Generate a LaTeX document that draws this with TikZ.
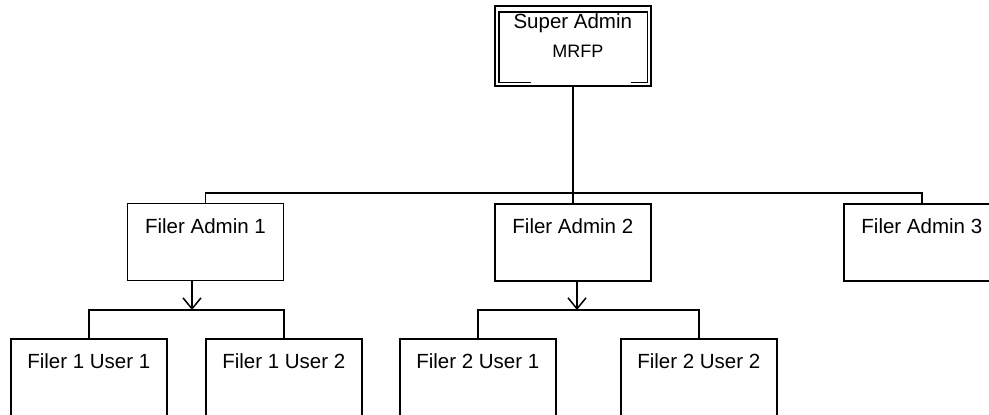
\documentclass[tikz,border=0pt]{standalone}
\usepackage{fontspec}
\setmainfont{Liberation Sans}
\usetikzlibrary{arrows.meta}
\tikzset{%
  filerbox/.style = {shape=rectangle, draw, line width=1.6,%
                     minimum width=156, minimum height=77,%
                     anchor=north west, inner sep=0pt,%
                     label={[anchor=north,yshift=-15,inner sep=0pt]north:#1}},%
  userbox/.style  = {filerbox=#1, minimum height=79},%
  superbox/.style = {shape=rectangle, draw, line width=1.6,%
                     minimum width=156, minimum height=80,%
                     anchor=north west, inner sep=0pt},%
  link/.style     = {line width=1.9},%
  down/.style     = {link, -{Straight Barb[length=11pt,width=18pt,line width=1.5pt]}}%
}

\begin{document}
\begin{tikzpicture}[x=1pt,y=1pt,every node/.style={font=\fontsize{20.5}{24}\selectfont}]
	\useasboundingbox (0,0) rectangle (989,-415);
	\node[superbox,
		label={[anchor=north,yshift=-8,inner sep=0pt]north:Super Admin},
		label={[anchor=north,yshift=-40,xshift=5,inner sep=0pt,font=\fontsize{18}{22}\selectfont]north:MRFP}]
		(superadmin) at (494,-5) {};
	\draw[line width=1.6] ([xshift=37,yshift=4]superadmin.south west) -| ([xshift=5,yshift=-7]superadmin.north west)
		-| ([xshift=-4,yshift=4]superadmin.south east) -- ([xshift=-21,yshift=4]superadmin.south east);
	\node[filerbox=Filer Admin 1, line width=1] (fadmin1) at (127,-203) {};
	\node[filerbox=Filer Admin 2] (fadmin2) at (494,-203) {};
	\node[filerbox=Filer Admin 3] (fadmin3) at (843,-203) {};
	\node[userbox=Filer 1 User 1] (fuser11) at (10,-338) {};
	\node[userbox=Filer 1 User 2] (fuser12) at (205,-338) {};
	\node[userbox=Filer 2 User 1] (fuser21) at (399,-338) {};
	\node[userbox=Filer 2 User 2] (fuser22) at (620,-338) {};
	\coordinate (adminbus) at (572,-193);
	\coordinate (userbus1) at (192,-310);
	\coordinate (userbus2) at (577,-310);
	\draw[link] (superadmin.south) -- (fadmin2.north);
	\draw[link] (fadmin1.north) |- (adminbus) -| (fadmin3.north);
	\draw[down] (fadmin1.south -| userbus1) -- (userbus1);
	\draw[link] (fuser11.north) |- (userbus1) -| (fuser12.north);
	\draw[down] (fadmin2.south -| userbus2) -- (userbus2);
	\draw[link] (fuser21.north) |- (userbus2) -| (fuser22.north);
\end{tikzpicture}
\end{document}
